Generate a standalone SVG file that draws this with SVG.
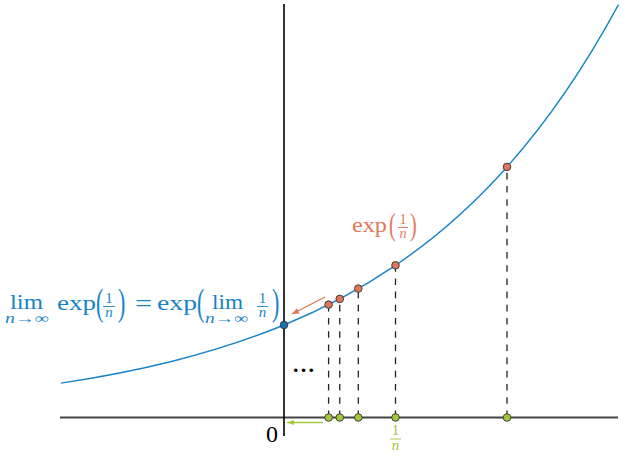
<svg xmlns="http://www.w3.org/2000/svg" width="634" height="460" viewBox="0 0 634 460">
<style>
.t{font-family:"Liberation Serif","Times New Roman",serif}
.i{font-style:italic}
.blue{fill:#1784c6}
.org{fill:#e0775a}
.grn{fill:#a4c639}
.dash{stroke:#222;stroke-width:1.3;stroke-dasharray:6.6 6.6;fill:none}
.od{fill:#e0775a;stroke:#333;stroke-width:0.9}
.gd{fill:#a4c639;stroke:#333;stroke-width:0.9}
</style>
<defs>
<marker id="ao" markerWidth="8" markerHeight="8" refX="7" refY="4" orient="auto" markerUnits="userSpaceOnUse">
<path d="M0,1 L7,4 L0,7 Z" fill="#e0775a"/>
</marker>
<marker id="ag" markerWidth="8" markerHeight="8" refX="7" refY="4" orient="auto" markerUnits="userSpaceOnUse">
<path d="M0,1.5 L7,4 L0,6.5 Z" fill="#a4c639"/>
</marker>
</defs>
<rect width="634" height="460" fill="#fff"/>
<g id="axes">
<line x1="60" y1="417.5" x2="618" y2="417.5" stroke="#444" stroke-width="1.8"/>
<line x1="284" y1="4" x2="284" y2="436" stroke="#000" stroke-width="1.6"/>
</g>
<g id="connectors">
<line class="dash" x1="328.6" y1="417" x2="328.6" y2="304.6"/>
<line class="dash" x1="339.75" y1="417" x2="339.75" y2="298.9"/>
<line class="dash" x1="358.3" y1="417" x2="358.3" y2="288.6"/>
<line class="dash" x1="395.5" y1="417" x2="395.5" y2="265.3"/>
<line class="dash" x1="507" y1="417" x2="507" y2="166.9"/>
<line x1="325" y1="297" x2="292" y2="314" stroke="#e0775a" stroke-width="1.3" marker-end="url(#ao)"/>
<line x1="323" y1="422.5" x2="287" y2="422.5" stroke="#a4c639" stroke-width="1.3" marker-end="url(#ag)"/>
</g>
<g id="curve">
<path d="M61,383.15 C98.17,377.51 135.33,370.5 172.5,361.2 C209.67,351.9 246.83,340.33 284,325 C321.17,309.67 358.33,290.6 395.5,265.32 C432.67,240.04 469.83,208.6 507,166.92 C544.17,125.24 581.33,73.4 618.5,4.68" fill="none" stroke="#1784c6" stroke-width="1.4"/>
</g>
<g id="points">
<circle cx="284" cy="325" r="3.8" fill="#1670b0" stroke="#333" stroke-width="0.9"/>
<circle class="od" cx="328.6" cy="304.6" r="3.8"/>
<circle class="od" cx="339.75" cy="298.9" r="3.8"/>
<circle class="od" cx="358.3" cy="288.6" r="3.8"/>
<circle class="od" cx="395.5" cy="265.3" r="3.8"/>
<circle class="od" cx="507" cy="166.9" r="3.8"/>
<circle class="gd" cx="328.6" cy="417.5" r="3.8"/>
<circle class="gd" cx="339.75" cy="417.5" r="3.8"/>
<circle class="gd" cx="358.3" cy="417.5" r="3.8"/>
<circle class="gd" cx="395.5" cy="417.5" r="3.8"/>
<circle class="gd" cx="507" cy="417.5" r="3.8"/>
</g>
<g id="label-limit" class="t blue">
<text x="10" y="309" font-size="22" textLength="33" lengthAdjust="spacingAndGlyphs">lim</text>
<text x="5" y="323" font-size="14" textLength="44" lengthAdjust="spacingAndGlyphs"><tspan class="i">n</tspan>→∞</text>
<text x="57" y="310" font-size="22" textLength="39" lengthAdjust="spacingAndGlyphs">exp</text>
<text transform="translate(96,315) scale(1,1.75)" font-size="22">(</text>
<text x="109" y="303" font-size="15" text-anchor="middle">1</text>
<line x1="103" y1="306.5" x2="115" y2="306.5" stroke="#1784c6" stroke-width="0.9"/>
<text class="i" x="109" y="317" font-size="15" text-anchor="middle">n</text>
<text transform="translate(118,315) scale(1,1.75)" font-size="22">)</text>
<text x="135" y="311" font-size="24" textLength="17" lengthAdjust="spacingAndGlyphs">=</text>
<text x="157" y="310" font-size="22" textLength="40" lengthAdjust="spacingAndGlyphs">exp</text>
<text transform="translate(197,315) scale(1,1.75)" font-size="22">(</text>
<text x="212" y="309" font-size="22" textLength="31" lengthAdjust="spacingAndGlyphs">lim</text>
<text x="205" y="323" font-size="14" textLength="43" lengthAdjust="spacingAndGlyphs"><tspan class="i">n</tspan>→∞</text>
<text x="262.5" y="303" font-size="15" text-anchor="middle">1</text>
<line x1="257" y1="306.5" x2="268" y2="306.5" stroke="#1784c6" stroke-width="0.9"/>
<text class="i" x="262.5" y="317" font-size="15" text-anchor="middle">n</text>
<text transform="translate(272,315) scale(1,1.75)" font-size="22">)</text>
</g>
<g id="label-exp" class="t org">
<text x="352" y="232" font-size="21" textLength="35" lengthAdjust="spacingAndGlyphs">exp</text>
<text transform="translate(389,235) scale(1,1.6)" font-size="20">(</text>
<text x="403" y="224" font-size="14" text-anchor="middle">1</text>
<line x1="398" y1="227.5" x2="408" y2="227.5" stroke="#e0775a" stroke-width="0.9"/>
<text class="i" x="403" y="238" font-size="14" text-anchor="middle">n</text>
<text transform="translate(410,235) scale(1,1.6)" font-size="20">)</text>
</g>
<g id="label-frac" class="t grn">
<text x="395.5" y="435" font-size="15" text-anchor="middle">1</text>
<line x1="390" y1="439" x2="401" y2="439" stroke="#a4c639" stroke-width="0.9"/>
<text class="i" x="395.5" y="450" font-size="15" text-anchor="middle">n</text>
</g>
<g id="label-zero" class="t">
<text x="266" y="442" font-size="24" fill="#000">0</text>
</g>
<g id="dots" class="t">
<text x="293" y="372" font-size="22" font-weight="bold" textLength="21" lengthAdjust="spacing" fill="#000">...</text>
</g>
</svg>
